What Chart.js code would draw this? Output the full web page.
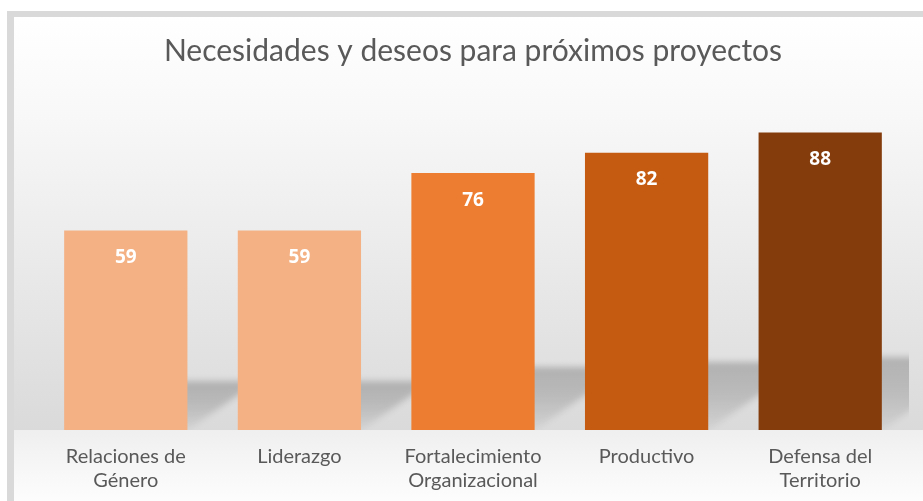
<!DOCTYPE html>
<html>
<head>
<meta charset="utf-8">
<script src="https://cdn.jsdelivr.net/npm/chart.js@4/dist/chart.umd.min.js"></script>
<style>
    html, body { margin: 0; padding: 0; background: #ffffff; overflow: hidden; }
    #frame {
        position: absolute; left: 7px; top: 11px;
        width: 909px; height: 484px;
        border-top: 6px solid #d9d9d9;
        border-left: 7px solid #d9d9d9;
    }
    #chart { display: block; }
</style>
</head>
<body>
<div id="frame"><canvas id="chart" width="909" height="484"></canvas></div>
<script>
const categories = [['Relaciones de', 'Género'], 'Liderazgo', ['Fortalecimiento', 'Organizacional'], 'Productivo', ['Defensa del', 'Territorio']];
const values = [59, 59, 76, 82, 88];
const barColors = ['#f4b183', '#f4b183', '#ed7d31', '#c55a11', '#843c0c'];

// fondo degradado como en el original
const backgroundPlugin = {
    id: 'bg',
    beforeDraw(chart) {
        const ctx = chart.ctx;
        const bottom = chart.chartArea.bottom;
        const h = chart.height;
        const g = ctx.createLinearGradient(0, 0, 0, h);
        g.addColorStop(0, '#ffffff');
        g.addColorStop(0.2, '#f8f8f8');
        g.addColorStop(bottom / h * 0.999, '#dadada');
        g.addColorStop(bottom / h, '#efefef');
        g.addColorStop(1, '#fdfdfd');
        ctx.save();
        ctx.fillStyle = g;
        ctx.fillRect(0, 0, chart.width, h);
        ctx.restore();
    }
};

// sombra en perspectiva detrás de cada barra
const shadowPlugin = {
    id: 'barShadow',
    beforeDatasetsDraw(chart) {
        const ctx = chart.ctx;
        const meta = chart.getDatasetMeta(0);
        ctx.save();
        ctx.beginPath();
        ctx.rect(0, 0, 895, chart.chartArea.bottom);
        ctx.clip();
        ctx.filter = 'blur(3px)';
        meta.data.forEach(bar => {
            const left = bar.x - bar.width / 2;
            const right = bar.x + bar.width / 2;
            const bottom = bar.base;
            const sh = (bottom - bar.y) * 0.245;
            const top = bottom - sh;
            const dx = sh * 1.45;
            const g = ctx.createLinearGradient(0, top, 0, bottom);
            g.addColorStop(0, 'rgba(0,0,0,0.21)');
            g.addColorStop(0.5, 'rgba(0,0,0,0.15)');
            g.addColorStop(1, 'rgba(0,0,0,0.03)');
            ctx.fillStyle = g;
            ctx.beginPath();
            ctx.moveTo(left, bottom);
            ctx.lineTo(right, bottom);
            ctx.lineTo(right + dx, top);
            ctx.lineTo(left + dx, top);
            ctx.closePath();
            ctx.fill();
        });
        ctx.restore();
    }
};

// etiquetas de valores
const labelPlugin = {
    id: 'valueLabels',
    afterDatasetsDraw(chart) {
        const ctx = chart.ctx;
        const meta = chart.getDatasetMeta(0);
        ctx.save();
        ctx.fillStyle = '#ffffff';
        ctx.font = 'bold 19px "Open Sans"';
        ctx.textAlign = 'center';
        ctx.textBaseline = 'middle';
        meta.data.forEach((bar, i) => {
            ctx.fillText(values[i], bar.x, bar.y + 27);
        });
        ctx.restore();
    }
};

new Chart(document.getElementById('chart'), {
    type: 'bar',
    data: {
        labels: categories,
        datasets: [{
            data: values,
            backgroundColor: barColors,
            borderWidth: 0,
            categoryPercentage: 0.71,
            barPercentage: 1
        }]
    },
    options: {
        responsive: false,
        animation: false,
        layout: { padding: { left: 25, right: 16, top: 0, bottom: 0 } },
        plugins: {
            legend: { display: false },
            tooltip: { enabled: false },
            title: {
                display: true,
                text: 'Necesidades y deseos para próximos proyectos',
                color: '#595959',
                font: { family: 'Lato', size: 30, weight: 'normal', lineHeight: 1.2 },
                padding: { top: 16, bottom: 23 }
            }
        },
        scales: {
            x: {
                grid: { display: false, drawTicks: false },
                border: { display: false },
                ticks: {
                    color: '#595959',
                    font: { family: 'Lato', size: 20, lineHeight: 1.2 },
                    padding: 15,
                    maxRotation: 0
                },
                afterFit(scale) { scale.height = 71; }
            },
            y: {
                display: false,
                min: 0,
                max: 100
            }
        }
    },
    plugins: [backgroundPlugin, shadowPlugin, labelPlugin]
});
</script>
</body>
</html>
